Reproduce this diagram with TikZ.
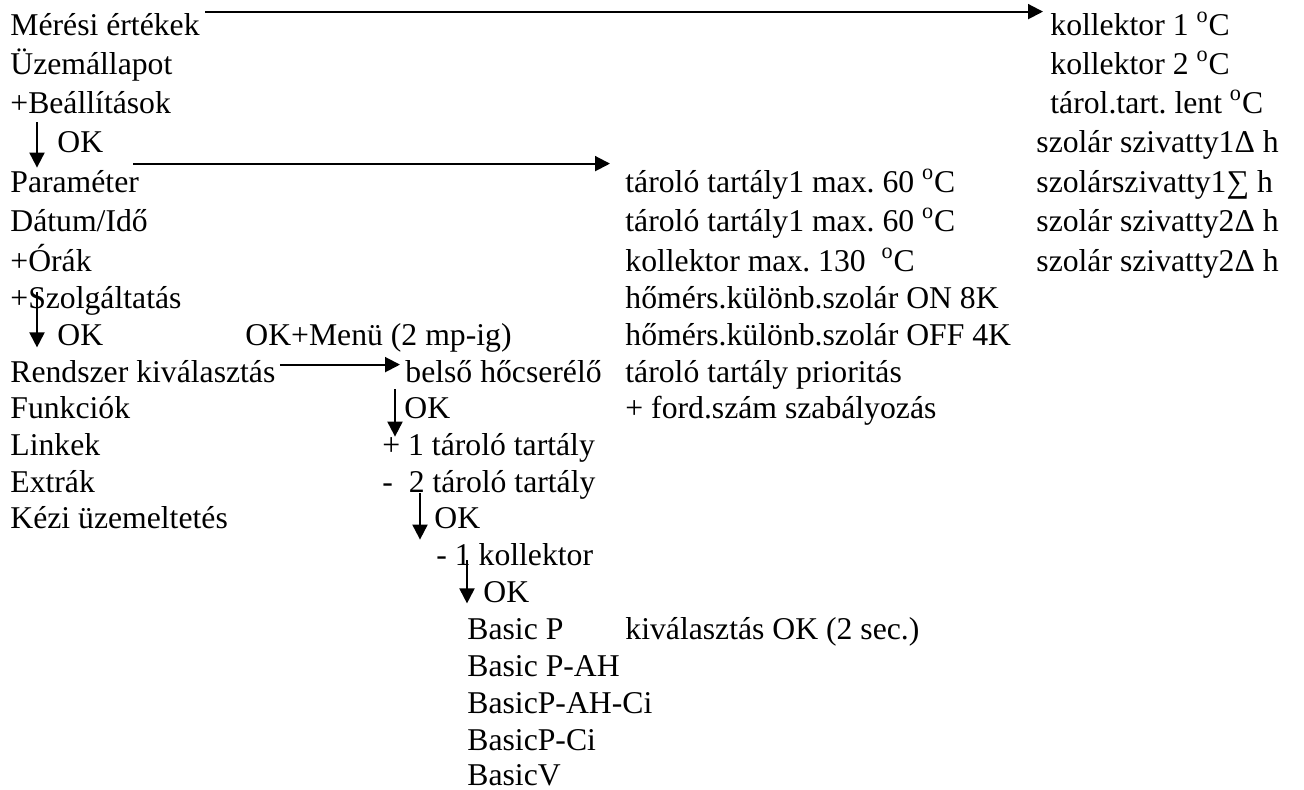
\documentclass[tikz,border=0pt]{standalone}
\usepackage{fontspec}
\setmainfont{Liberation Serif}
\usetikzlibrary{arrows.meta}
\usetikzlibrary{calc}
\frenchspacing

\begin{document}
\begin{tikzpicture}[x=0.5pt,y=-0.5pt,
  lbl/.style={anchor=base west,inner sep=0,text height=11pt,text depth=3.5pt,font=\fontsize{15.85}{19}\selectfont},
  arr/.style={line width=1pt,-{Triangle[length=7.5pt,width=7.5pt]}}]
\useasboundingbox (0,0) rectangle (1304,789);

\node[lbl] (meres) at (10,35) {Mérési értékek};
\node[lbl] (uzem) at (10,74) {Üzemállapot};
\node[lbl] (beall) at (10,113) {+Beállítások};
\node[lbl] (okA) at (57,152) {OK};
\node[lbl] (param) at (10,192) {Paraméter};
\node[lbl] (datum) at (10,231) {Dátum/Idő};
\node[lbl] (orak) at (10,271) {+Órák};
\node[lbl] (szolg) at (10,308) {+Szolgáltatás};
\node[lbl] (okB) at (57,345) {OK};
\node[lbl] (rendszer) at (10,382) {Rendszer kiválasztás};
\node[lbl] (funk) at (10,418) {Funkciók};
\node[lbl] (linkek) at (10,455) {Linkek};
\node[lbl] (extrak) at (10,492) {Extrák};
\node[lbl] (kezi) at (10,528) {Kézi üzemeltetés};

\node[lbl] (menu) at (245,345) {OK+Menü (2 mp-ig)};
\node[lbl] (belso) at (405,382) {belső hőcserélő};
\node[lbl] (okC) at (404,418) {OK};
\node[lbl] (plus1) at (382,455) {+ 1 tároló tartály};
\node[lbl] (ketto) at (382,492) {-\ \ 2 tároló tartály};
\node[lbl] (okD) at (434,528) {OK};
\node[lbl] (kollk) at (436,565) {- 1 kollektor};
\node[lbl] (okE) at (483,602) {OK};
\node[lbl] (basicP) at (467,639) {Basic P};
\node[lbl] (basicPAH) at (467,676) {Basic P-AH};
\node[lbl] (basicPAHCi) at (467,713) {BasicP-AH-Ci};
\node[lbl] (basicPCi) at (467,750) {BasicP-Ci};
\node[lbl,text depth=0pt] (basicV) at (467,785) {BasicV};
\node[lbl] (kival) at (625,639) {kiválasztás OK (2 sec.)};

\node[lbl] (tar1) at (625,192) {tároló tartály1 max. 60 \textsuperscript{o}C};
\node[lbl] (tar2) at (625,231) {tároló tartály1 max. 60 \textsuperscript{o}C};
\node[lbl] (kollmax) at (625,271) {kollektor max. 130\ \ \textsuperscript{o}C};
\node[lbl] (homon) at (625,308) {hőmérs.különb.szolár ON 8K};
\node[lbl] (homoff) at (625,345) {hőmérs.különb.szolár OFF 4K};
\node[lbl] (prior) at (625,382) {tároló tartály prioritás};
\node[lbl] (ford) at (625,418) {+ ford.szám szabályozás};

\node[lbl] (koll1) at (1050,35) {kollektor 1 \textsuperscript{o}C};
\node[lbl] (koll2) at (1050,74) {kollektor 2 \textsuperscript{o}C};
\node[lbl] (tarol) at (1050,113) {tárol.tart. lent \textsuperscript{o}C};
\node[lbl] (szivA) at (1036,152) {szolár szivatty1Δ h};
\node[lbl] (szivB) at (1036,192) {szolárszivatty1∑ h};
\node[lbl] (szivC) at (1036,231) {szolár szivatty2Δ h};
\node[lbl] (szivD) at (1036,271) {szolár szivatty2Δ h};

\draw[arr] ($(meres.north east)+(5,-1)$) -- ($(koll1.north west)+(-7,-1)$);
\draw[arr] ($(param.north east)+(-6,-6)$) -- ($(tar1.north west)+(-15,-6)$);
\draw[arr] ($(rendszer.north east)+(4,5)$) -- ($(belso.north west)+(-5,5)$);

\draw[arr] ($(beall.south -| okA.west)+(-20,2)$) -- ($(param.north -| okA.west)+(-20,-2)$);
\draw[arr] ($(szolg.north -| okB.west)+(-20,6)$) -- ($(okB.south west)+(-20,-5)$);
\draw[arr] ($(belso.south -| okC.west)+(-9,0)$) -- ($(plus1.north -| okC.west)+(-9,4)$);
\draw[arr] ($(ketto.south -| okD.west)+(-14,-6)$) -- ($(kollk.north -| okD.west)+(-14,-3)$);
\draw[arr] ($(kollk.south -| okE.west)+(-16,-12)$) -- ($(okE.south west)+(-16,-6)$);

\end{tikzpicture}
\end{document}
